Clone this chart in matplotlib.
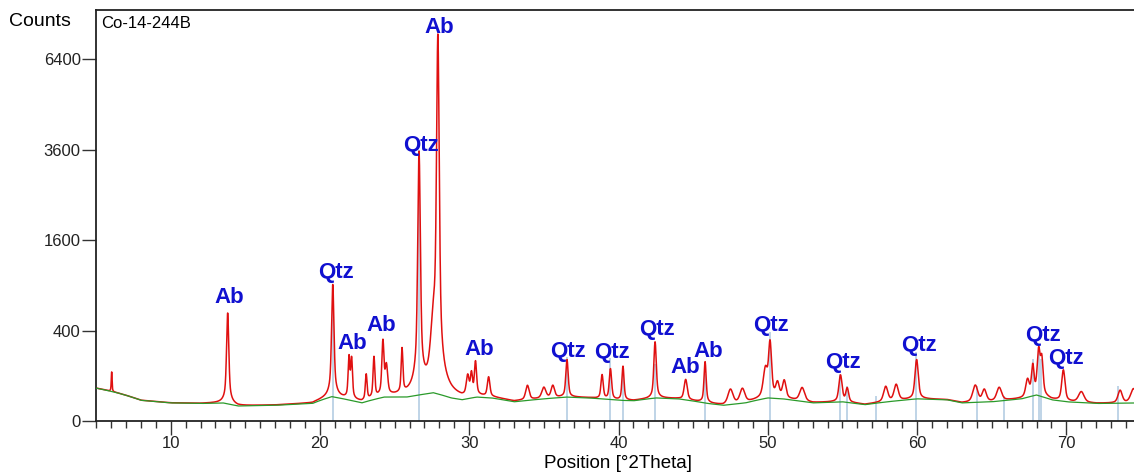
import numpy as np
import matplotlib.pyplot as plt

plt.rcParams['font.family'] = ['Liberation Sans', 'DejaVu Sans']

# diffraction peaks: position [°2Theta], height above background [counts], FWHM [°]
peak_pos = [6.05, 13.82, 20.86, 21.95, 22.12, 23.10, 23.62, 24.22, 24.45, 25.50,
            26.64, 27.62, 27.90, 29.90, 30.15, 30.42, 31.30, 33.90, 35.00, 35.60,
            36.55, 38.90, 39.46, 40.30, 42.45, 44.50, 45.80, 47.50, 48.30, 49.85,
            50.15, 50.65, 51.10, 52.30, 54.87, 55.32, 57.90, 58.60, 59.97, 63.90,
            64.50, 65.50, 67.40, 67.75, 68.15, 68.35, 69.80, 71.00, 73.60, 74.50]
peak_height = [75, 555, 880, 180, 170, 85, 175, 285, 120, 220,
               3500, 420, 7160, 70, 80, 140, 65, 40, 30, 35,
               155, 80, 110, 125, 280, 62, 155, 35, 35, 110,
               280, 45, 55, 35, 85, 35, 40, 45, 160, 45,
               30, 35, 55, 120, 220, 160, 108, 25, 30, 35]
peak_fwhm = [0.06, 0.14, 0.15, 0.12, 0.12, 0.12, 0.12, 0.14, 0.18, 0.12,
             0.16, 0.38, 0.17, 0.20, 0.15, 0.15, 0.18, 0.25, 0.30, 0.25,
             0.16, 0.16, 0.16, 0.14, 0.16, 0.22, 0.14, 0.35, 0.35, 0.30,
             0.20, 0.25, 0.25, 0.35, 0.22, 0.20, 0.30, 0.30, 0.22, 0.35,
             0.30, 0.35, 0.25, 0.18, 0.20, 0.18, 0.22, 0.40, 0.30, 0.40]

# fitted background (green line)
bg_pos = [5.0, 6.5, 8.0, 10.0, 12.0, 13.5, 14.5, 17.0, 19.5, 20.8, 22.8, 24.3,
          25.8, 27.6, 28.8, 29.5, 30.5, 31.5, 33.0, 35.0, 36.5, 38.0, 40.0, 41.0,
          42.5, 44.0, 46.0, 47.0, 48.5, 50.0, 51.0, 53.0, 55.0, 56.5, 58.0, 60.0,
          62.0, 63.0, 65.0, 67.0, 68.0, 69.0, 70.0, 72.0, 75.0]
bg_counts = [53, 38, 21, 16, 15, 16, 11, 12, 15, 29, 16, 28,
             28, 39, 26, 22, 28, 26, 18, 24, 28, 26, 21, 20,
             26, 24, 15, 12, 16, 26, 24, 16, 18, 13, 18, 24,
             22, 16, 18, 24, 33, 22, 18, 15, 16]

# reference pattern sticks (quartz)
stick_pos = [20.86, 26.64, 36.54, 39.46, 40.29, 42.45, 45.79, 50.14, 54.87, 55.32,
             57.23, 59.96, 64.03, 65.79, 67.74, 68.14, 68.32, 73.47]
stick_height = [790, 3600, 200, 195, 110, 160, 110, 390, 110, 60,
                30, 230, 60, 30, 185, 230, 190, 60]

# phase labels
label_text = ['Ab', 'Qtz', 'Ab', 'Ab', 'Qtz', 'Ab', 'Ab', 'Qtz', 'Qtz', 'Qtz',
              'Ab', 'Ab', 'Qtz', 'Qtz', 'Qtz', 'Qtz', 'Qtz']
label_x = [13.95, 21.05, 22.19, 24.13, 26.74, 28.02, 30.70, 36.59, 39.54, 42.55,
           44.49, 46.04, 50.19, 55.01, 60.10, 68.41, 69.95]
label_y = [739, 1084, 297, 441, 3720, 7550, 253, 239, 232, 413,
           142, 239, 450, 170, 275, 353, 188]

y_ticks = [0, 400, 1600, 3600, 6400]

theta = np.arange(5.0, 75.0, 0.01)
background = np.interp(theta, bg_pos, bg_counts)
counts = background.copy()
for p, h, w in zip(peak_pos, peak_height, peak_fwhm):
    g = np.exp(-4 * np.log(2) * ((theta - p) / w) ** 2)
    lor = 1 / (1 + 4 * ((theta - p) / w) ** 2)
    counts += h * (0.5 * g + 0.5 * lor)

fig = plt.figure(figsize=(11.34, 4.72), dpi=100)
ax = fig.add_axes([96 / 1134, 51 / 472, 1045 / 1134, 411 / 472])

ax.set_yscale('function', functions=(lambda v: np.sqrt(np.clip(v, 0, None)), lambda v: np.square(v)))

ax.vlines(stick_pos, 0, stick_height, color='#b4cde3', lw=1.2, zorder=1)
ax.plot(theta, counts, color='#e01010', lw=1.1, zorder=2)
ax.plot(theta, background, color='#2a9a2a', lw=0.9, zorder=3)

for t, x, y in zip(label_text, label_x, label_y):
    ax.text(x, y, t, color='#1010d0', fontsize=16, fontweight='bold', ha='center', va='center')

ax.set_xlim(5, 75)
ax.set_ylim(0, 8250)
ax.set_yticks(y_ticks)
ax.set_xticks(np.arange(10, 80, 10))
ax.set_xticks(np.arange(5, 76, 1), minor=True)
ax.tick_params(axis='both', which='major', length=10, width=1, labelsize=12, direction='out', color='#333333', labelcolor='#222222')
ax.tick_params(axis='x', which='minor', length=5, width=1, color='#333333')
ax.tick_params(axis='x', pad=1)
ax.tick_params(axis='y', pad=1)
for s in ['left', 'top', 'bottom']:
    ax.spines[s].set_linewidth(1.3)
    ax.spines[s].set_color('#222222')
ax.spines['right'].set_visible(False)

ax.set_xlabel('Position [°2Theta]', fontsize=13.5, labelpad=3)
ax.text(0.005, 0.985, 'Co-14-244B', transform=ax.transAxes, fontsize=12, ha='left', va='top')
fig.text(9 / 1134, 1 - 21 / 472, 'Counts', fontsize=14, ha='left', va='center')

fig.savefig('out.png', dpi=100)
